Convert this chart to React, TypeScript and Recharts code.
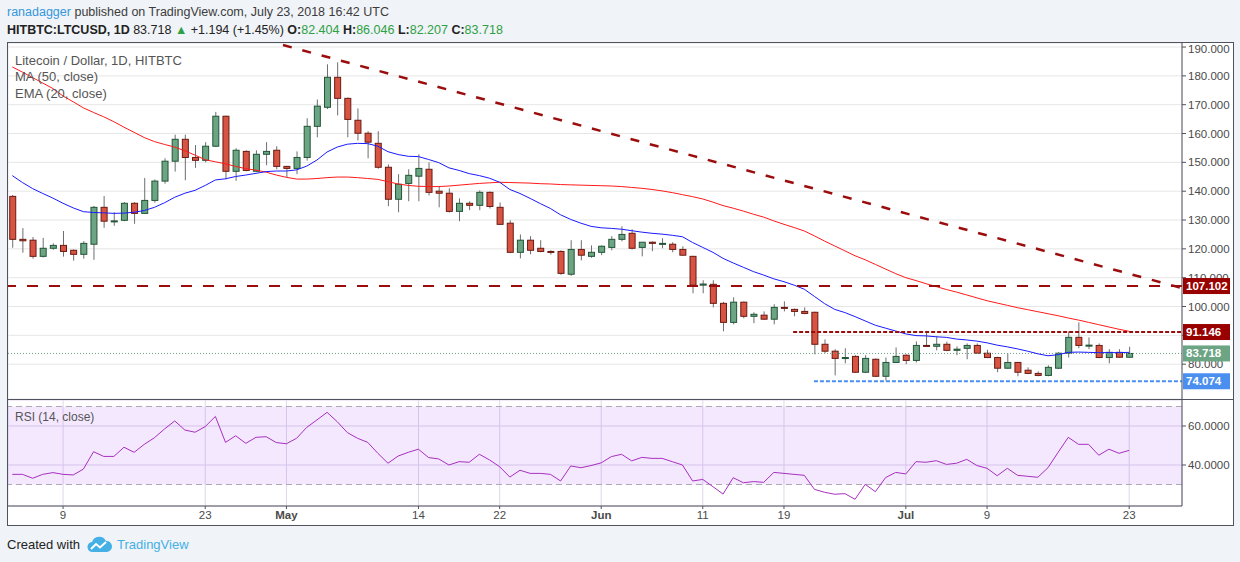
import React from 'react';
import {
  ComposedChart,
  Bar,
  Line,
  XAxis,
  YAxis,
  CartesianGrid,
  ReferenceLine,
  ReferenceArea,
} from 'recharts';

// LTCUSD daily candles, Apr 4 .. Jul 23 2018
const opens = [
  138.2, 123.3, 123.0, 117.4, 120.2, 121.2, 119.5, 118.1, 121.6, 134.4,
  129.5, 129.9, 135.8, 132.3, 136.8, 143.5, 150.4, 158.0, 151.7, 150.7,
  155.6, 166.0, 146.9, 153.8, 146.9, 152.8, 154.2, 148.6, 147.9, 151.7,
  162.5, 169.1, 179.5, 172.2, 164.6, 160.1, 156.6, 148.3, 137.2, 142.7,
  145.2, 147.6, 140.0, 139.3, 133.0, 135.8, 135.1, 139.6, 134.4, 128.9,
  118.8, 123.0, 120.2, 119.1, 119.1, 111.2, 119.8, 117.4, 118.8, 120.5,
  123.3, 125.4, 120.5, 122.3, 121.6, 121.6, 119.8, 117.4, 107.4, 107.7,
  101.1, 94.5, 101.5, 96.6, 97.0, 95.6, 99.7, 99.0, 98.3, 98.0,
  86.9, 84.5, 82.0, 82.7, 77.2, 81.7, 75.8, 80.6, 83.1, 81.3,
  86.5, 86.2, 86.9, 84.8, 85.5, 86.5, 83.8, 82.3, 78.6, 80.6,
  77.9, 76.8, 76.1, 78.6, 83.8, 89.3, 86.4, 86.5, 82.3, 84.1, 82.404,
];
const highs = [
  138.7, 127.2, 124.1, 123.8, 121.9, 126.2, 119.8, 122.7, 134.9, 138.3,
  132.7, 136.2, 136.2, 144.6, 144.1, 151.4, 159.6, 159.6, 156.0, 157.0,
  167.5, 166.2, 154.9, 154.2, 154.2, 157.0, 155.6, 148.8, 153.8, 165.3,
  171.8, 184.0, 184.7, 172.5, 168.7, 160.8, 160.8, 149.3, 145.9, 147.6,
  152.8, 150.0, 141.7, 141.0, 137.5, 136.5, 140.3, 139.9, 136.1, 129.9,
  125.0, 124.4, 123.0, 119.5, 119.5, 123.0, 123.0, 121.2, 121.2, 124.4,
  127.8, 126.8, 122.3, 122.6, 123.7, 122.3, 120.9, 117.6, 109.1, 109.1,
  101.6, 103.2, 101.7, 98.0, 98.3, 100.8, 101.8, 99.3, 99.7, 98.2,
  88.6, 85.2, 85.5, 83.1, 83.1, 82.0, 82.3, 85.8, 83.4, 87.9,
  91.4, 89.7, 87.8, 86.2, 87.2, 87.2, 85.0, 82.6, 83.8, 80.8,
  78.9, 77.5, 79.6, 84.2, 91.4, 94.5, 89.3, 87.2, 85.2, 85.2, 86.046,
];
const lows = [
  120.4, 118.7, 116.6, 117.0, 119.7, 117.3, 115.9, 116.6, 116.2, 127.3,
  128.0, 129.6, 128.7, 132.3, 136.0, 142.6, 146.8, 143.8, 148.1, 150.0,
  155.3, 144.1, 143.6, 146.9, 146.7, 149.0, 147.6, 144.8, 145.9, 150.6,
  158.7, 168.5, 166.3, 158.7, 157.6, 151.4, 147.8, 134.8, 132.7, 136.5,
  136.5, 138.5, 134.4, 132.6, 129.6, 133.4, 133.4, 134.0, 128.3, 118.5,
  116.7, 118.1, 118.8, 118.0, 111.0, 110.6, 116.0, 116.9, 117.8, 119.5,
  122.6, 119.8, 117.4, 119.2, 120.2, 118.8, 117.6, 104.6, 104.6, 99.7,
  91.4, 93.8, 95.9, 94.2, 95.4, 93.8, 98.3, 96.6, 97.3, 83.4,
  83.8, 76.1, 80.3, 77.0, 77.0, 75.6, 74.3, 80.6, 80.0, 80.6,
  86.0, 84.8, 84.5, 83.1, 81.7, 83.6, 82.1, 77.2, 78.4, 75.8,
  76.5, 75.8, 75.8, 78.3, 82.3, 85.5, 85.2, 82.1, 80.3, 82.3, 82.207,
];
const closes = [
  123.3, 122.8, 117.4, 120.2, 121.2, 119.1, 118.1, 121.9, 134.4, 129.6,
  129.7, 135.8, 132.3, 136.8, 143.5, 150.4, 158.0, 151.7, 150.7, 155.6,
  166.0, 146.9, 154.2, 147.2, 152.8, 153.8, 148.6, 147.9, 151.7, 162.5,
  169.5, 179.5, 172.2, 164.9, 160.1, 157.0, 148.3, 137.2, 142.4, 145.5,
  147.9, 139.6, 139.3, 133.0, 135.8, 135.1, 139.6, 134.7, 128.5, 118.8,
  123.0, 119.5, 119.1, 118.8, 111.5, 119.8, 117.8, 118.8, 120.9, 123.3,
  125.0, 120.2, 122.3, 121.9, 121.9, 119.8, 117.8, 107.4, 107.8, 101.1,
  94.5, 101.5, 96.6, 97.3, 95.6, 99.7, 99.4, 98.3, 97.6, 86.9,
  84.5, 82.0, 82.3, 77.2, 82.0, 75.8, 80.6, 82.7, 81.3, 86.5,
  86.2, 86.9, 84.8, 85.2, 86.5, 83.8, 82.3, 78.6, 80.6, 77.2,
  76.8, 76.1, 78.9, 83.8, 89.3, 86.5, 86.6, 82.3, 84.1, 82.404, 83.718,
];
const ma50 = [
  183.1, 181.3, 179.4, 177.5, 175.6, 173.0, 171.0, 168.9, 167.3, 165.8,
  164.1, 162.2, 160.4, 158.6, 157.2, 156.2, 155.3, 154.0, 152.5, 150.9,
  150.2, 149.5, 148.6, 147.8, 147.3, 146.6, 145.6, 144.8, 144.2, 144.2,
  144.4, 144.7, 144.9, 144.9, 144.7, 144.4, 144.1, 143.3, 142.5, 142.0,
  141.7, 141.6, 141.6, 141.8, 142.1, 142.4, 142.7, 142.9, 143.1, 143.0,
  142.9, 142.8, 142.6, 142.5, 142.3, 142.2, 142.1, 142.0, 141.9, 141.8,
  141.6, 141.3, 141.0, 140.6, 140.1, 139.5, 138.8, 138.1, 137.3, 136.2,
  135.0, 134.1, 133.1, 132.0, 131.0, 129.7, 128.5, 127.4, 126.2, 124.5,
  122.7, 121.0, 119.3, 117.6, 116.2, 114.6, 113.0, 111.4, 110.0, 109.0,
  107.9, 106.9, 105.9, 105.0, 104.0, 103.0, 102.0, 101.2, 100.4, 99.6,
  98.9, 98.2, 97.5, 96.8, 96.0, 95.3, 94.5, 93.7, 92.9, 92.1, 91.4,
];
const ema20 = [
  145.4, 143.0, 140.9, 139.2, 137.6, 135.8, 134.2, 132.9, 132.6, 132.5,
  132.3, 132.4, 132.7, 133.3, 134.4, 136.0, 137.9, 139.3, 140.3, 142.0,
  143.9, 144.3, 145.1, 145.6, 146.2, 146.8, 147.0, 147.0, 147.4, 148.7,
  150.8, 153.6, 155.3, 156.3, 156.6, 156.5, 155.6, 153.7, 152.7, 152.1,
  152.0, 151.0, 149.9, 148.1, 147.2, 146.1, 145.4, 144.5, 143.1, 140.6,
  139.2, 137.5, 135.7, 134.0, 131.8, 130.2, 128.9, 127.8, 127.3, 127.1,
  126.8, 126.3, 125.8, 125.4, 125.1, 124.7, 124.2, 122.2, 120.5, 118.8,
  116.7, 115.1, 113.6, 112.1, 110.9, 109.6, 108.6, 107.4, 106.0, 103.5,
  101.0, 99.0, 97.9, 96.5, 95.0, 93.5, 92.5, 91.5, 90.5, 89.9,
  89.8, 89.5, 89.3, 88.7, 88.4, 88.0, 87.4, 86.6, 86.0, 85.3,
  84.5, 83.6, 82.9, 83.3, 84.1, 84.2, 84.1, 84.0, 84.0, 84.0, 84.1,
];
const rsi14 = [
  35.2, 35.2, 33.2, 35.2, 36.1, 35.2, 34.9, 37.9, 46.8, 44.4,
  44.4, 49.1, 46.5, 50.6, 54.0, 58.5, 62.6, 57.9, 56.8, 59.7,
  64.9, 51.6, 55.0, 51.1, 54.2, 54.5, 51.5, 50.9, 53.7, 59.3,
  63.1, 67.0, 62.2, 56.6, 53.7, 51.6, 46.0, 40.9, 44.6, 46.5,
  48.1, 43.8, 43.1, 40.0, 41.7, 41.4, 45.5, 42.6, 39.1, 33.8,
  37.3, 35.7, 35.7, 35.2, 31.8, 39.5, 38.6, 39.7, 41.1, 44.3,
  45.5, 42.1, 43.9, 43.4, 43.4, 41.7, 40.0, 31.8, 32.6, 28.9,
  25.1, 33.5, 30.9, 31.5, 31.1, 36.2, 35.7, 35.2, 34.7, 27.5,
  26.0, 25.0, 25.3, 22.4, 30.1, 26.3, 33.5, 36.2, 35.4, 41.7,
  41.4, 42.2, 40.3, 40.9, 42.9, 39.7, 38.3, 34.5, 38.3, 34.7,
  34.2, 33.7, 38.6, 46.5, 54.2, 50.6, 50.6, 45.0, 48.1, 46.0, 47.5,
];

// time axis: candle number -> label
const dateTicks = [6, 20, 28, 41, 49, 59, 69, 77, 89, 97, 111];
const dateLabels = ['9', '23', 'May', '14', '22', 'Jun', '11', '19', 'Jul', '9', '23'];
const priceTicks = [70, 80, 90, 100, 110, 120, 130, 140, 150, 160, 170, 180, 190];
const rsiTicks = [40, 60];

const data = opens.map((o, k) => ({
  i: k + 1,
  o,
  h: highs[k],
  l: lows[k],
  c: closes[k],
  range: [lows[k], highs[k]],
  ma: ma50[k],
  ema: ema20[k],
  rsi: rsi14[k],
}));

const X_DOMAIN: [number, number] = [0.576, 116.2];
const PRICE_DOMAIN: [number, number] = [67.92, 191.4];
const FRAME = '#50535e';
const GRID = '#e6e6e6';
const AXIS_TEXT = '#4a4a4a';
const FONT = '"Liberation Sans", Arial, sans-serif';

const Candle = (props: any) => {
  const { x, y, width, height, payload } = props;
  const { o, h, l, c } = payload;
  const top = Math.min(y, y + height);
  const span = Math.abs(height);
  const k = h - l > 0 ? span / (h - l) : 0;
  const yOf = (v: number) => top + (h - v) * k;
  const cx = x + width / 2;
  const up = c >= o;
  const bTop = yOf(Math.max(o, c));
  const bBot = yOf(Math.min(o, c));
  return (
    <g>
      <line x1={cx} x2={cx} y1={top} y2={top + span} stroke="#6e6e70" strokeWidth={1} />
      <rect
        x={x + 0.5}
        y={bTop}
        width={width - 1}
        height={Math.max(1, bBot - bTop)}
        fill={up ? '#6ba583' : '#d75442'}
        stroke={up ? '#225437' : '#6b1a12'}
        strokeWidth={1}
      />
    </g>
  );
};

const Badge = (props: any) => {
  const { viewBox, text, bg } = props;
  const x = viewBox.x + viewBox.width;
  const y = viewBox.y;
  return (
    <g>
      <rect x={x + 1} y={y - 8} width={47} height={16} fill={bg} />
      <text x={x + 4} y={y + 4} fill="#fff" fontSize={11.5} fontWeight={700} fontFamily={FONT}>
        {text}
      </text>
    </g>
  );
};

const DateTick = (props: any) => {
  const { x, y, payload } = props;
  const label = dateLabels[dateTicks.indexOf(payload.value)];
  const month = isNaN(Number(label));
  return (
    <text
      x={x}
      y={y}
      dy="0.71em"
      textAnchor="middle"
      fontSize={11.5}
      fontFamily={FONT}
      fill={AXIS_TEXT}
      fontWeight={month ? 700 : 400}
    >
      {label}
    </text>
  );
};

const legendText: React.CSSProperties = {
  position: 'absolute',
  left: 15,
  fontSize: 13,
  color: '#555',
  lineHeight: '16px',
  whiteSpace: 'nowrap',
  pointerEvents: 'none',
};

const hiddenX = (
  <XAxis
    dataKey="i"
    type="number"
    domain={X_DOMAIN}
    allowDataOverflow
    ticks={dateTicks}
    tick={false}
    tickLine={false}
    axisLine={false}
    height={0}
  />
);

export default function App() {
  return (
    <div
      style={{
        position: 'absolute',
        left: 0,
        top: 0,
        width: 1240,
        height: 562,
        background: '#f0f3f7',
        fontFamily: FONT,
        overflow: 'hidden',
      }}
    >
      <div style={{ position: 'absolute', left: 7, top: 4, fontSize: 12.5, lineHeight: '16px', color: '#3c3c3c', whiteSpace: 'nowrap' }}>
        <span style={{ color: '#3597dd' }}>ranadagger</span> published on TradingView.com, July 23, 2018 16:42 UTC
      </div>
      <div style={{ position: 'absolute', left: 7, top: 22, fontSize: 12.5, lineHeight: '16px', color: '#222', whiteSpace: 'nowrap' }}>
        <b>HITBTC:LTCUSD, 1D</b> 83.718 <span style={{ color: '#2ea043' }}>▲</span> +1.194 (+1.45%){' '}
        <b>O:</b><span style={{ color: '#2ea043' }}>82.404</span> <b>H:</b><span style={{ color: '#2ea043' }}>86.046</span>{' '}
        <b>L:</b><span style={{ color: '#2ea043' }}>82.207</span> <b>C:</b><span style={{ color: '#2ea043' }}>83.718</span>
      </div>

      <div
        style={{
          position: 'absolute',
          left: 7,
          top: 42,
          width: 1227,
          height: 484,
          boxSizing: 'border-box',
          border: `1px solid ${FRAME}`,
          background: '#fff',
        }}
      />

      {/* price pane */}
      <div style={{ position: 'absolute', left: 8, top: 43 }}>
        <ComposedChart width={1224} height={356} data={data} margin={{ top: 0, right: 0, bottom: 0, left: 0 }}>
          <CartesianGrid stroke={GRID} />
          {hiddenX}
          <YAxis
            orientation="right"
            width={50}
            type="number"
            domain={PRICE_DOMAIN}
            allowDataOverflow
            ticks={priceTicks}
            tickFormatter={(v: number) => v.toFixed(3)}
            tick={{ fontSize: 11.5, fill: AXIS_TEXT, fontFamily: FONT }}
            tickSize={4}
            tickMargin={2}
            tickLine={{ stroke: FRAME }}
            axisLine={{ stroke: FRAME }}
          />
          <ReferenceLine y={83.718} stroke="#6ba583" strokeDasharray="1 2" strokeWidth={1} />
          <Line dataKey="ma" stroke="#ff1a1a" strokeWidth={1} dot={false} isAnimationActive={false} />
          <Line dataKey="ema" stroke="#1a1aff" strokeWidth={1} dot={false} isAnimationActive={false} />
          <Bar dataKey="range" barSize={7} shape={<Candle />} isAnimationActive={false} />
          <ReferenceLine y={107.102} stroke="#9b0d0d" strokeWidth={2} strokeDasharray="11 11" />
          <ReferenceLine
            segment={[{ x: 77.9, y: 91.146 }, { x: 116.2, y: 91.146 }]}
            stroke="#9b0d0d"
            strokeWidth={2}
            strokeDasharray="4 2"
          />
          <ReferenceLine
            segment={[{ x: 79.95, y: 74.074 }, { x: 116.2, y: 74.074 }]}
            stroke="#4a8ff0"
            strokeWidth={2}
            strokeDasharray="4 2"
          />
          <ReferenceLine
            segment={[{ x: 27.66, y: 190.7 }, { x: 116.2, y: 106.4 }]}
            stroke="#9b0d0d"
            strokeWidth={2.5}
            strokeDasharray="9 11"
          />
        </ComposedChart>
      </div>

      {/* price badges, drawn above the axis labels */}
      <div style={{ position: 'absolute', left: 8, top: 43, pointerEvents: 'none' }}>
        <ComposedChart width={1224} height={356} data={data} margin={{ top: 0, right: 0, bottom: 0, left: 0 }}>
          {hiddenX}
          <YAxis
            orientation="right"
            width={50}
            type="number"
            domain={PRICE_DOMAIN}
            allowDataOverflow
            tick={false}
            tickLine={false}
            axisLine={false}
          />
          <ReferenceLine y={107.102} stroke="none" label={<Badge text="107.102" bg="#990000" />} />
          <ReferenceLine y={91.146} stroke="none" label={<Badge text="91.146" bg="#990000" />} />
          <ReferenceLine y={83.718} stroke="none" label={<Badge text="83.718" bg="#6ba583" />} />
          <ReferenceLine y={74.074} stroke="none" label={<Badge text="74.074" bg="#4a8ff0" />} />
        </ComposedChart>
      </div>

      <div style={{ position: 'absolute', left: 7, top: 399, width: 1227, height: 1, background: FRAME }} />

      {/* RSI pane + time axis */}
      <div style={{ position: 'absolute', left: 8, top: 400 }}>
        <ComposedChart width={1224} height={125} data={data} margin={{ top: 0, right: 0, bottom: 0, left: 0 }}>
          <ReferenceArea y1={30} y2={70} fill="#9b30ff" fillOpacity={0.11} stroke="none" ifOverflow="visible" />
          <CartesianGrid stroke="#e0d6e8" />
          <XAxis
            dataKey="i"
            type="number"
            domain={X_DOMAIN}
            allowDataOverflow
            ticks={dateTicks}
            tick={<DateTick />}
            tickSize={3}
            tickMargin={2}
            tickLine={{ stroke: FRAME }}
            axisLine={{ stroke: FRAME }}
            height={19}
          />
          <YAxis
            orientation="right"
            width={50}
            type="number"
            domain={[18.97, 73.33]}
            allowDataOverflow
            ticks={rsiTicks}
            tickFormatter={(v: number) => v.toFixed(4)}
            tick={{ fontSize: 11.5, fill: AXIS_TEXT, fontFamily: FONT }}
            tickSize={4}
            tickMargin={2}
            tickLine={{ stroke: FRAME }}
            axisLine={{ stroke: FRAME }}
          />
          <ReferenceLine y={70} stroke="#b0a8b4" strokeDasharray="6 4" />
          <ReferenceLine y={30} stroke="#b0a8b4" strokeDasharray="6 4" />
          <Line dataKey="rsi" stroke="#a82fc0" strokeWidth={1} dot={false} isAnimationActive={false} />
        </ComposedChart>
      </div>

      <div style={{ ...legendText, top: 53 }}>Litecoin / Dollar, 1D, HITBTC</div>
      <div style={{ ...legendText, top: 69 }}>MA (50, close)</div>
      <div style={{ ...legendText, top: 86 }}>EMA (20, close)</div>
      <div style={{ ...legendText, top: 409, fontSize: 12 }}>RSI (14, close)</div>

      <div style={{ position: 'absolute', left: 7, top: 537, fontSize: 13, lineHeight: '16px', color: '#222', whiteSpace: 'nowrap' }}>
        Created with
      </div>
      <svg style={{ position: 'absolute', left: 87, top: 536 }} width={25} height={17} viewBox="0 0 25 17">
        <path d="M6 16 A5 5 0 0 1 5 6 A7.5 7.5 0 0 1 19 5 A5.5 5.5 0 0 1 20 16 Z" fill="#45b0e5" />
        <path d="M4 13 L9 8 L13 11.5 L19 6" stroke="#fff" strokeWidth={2} fill="none" />
      </svg>
      <div style={{ position: 'absolute', left: 117, top: 537, fontSize: 13, lineHeight: '16px', color: '#45b0e5', whiteSpace: 'nowrap' }}>
        TradingView
      </div>
    </div>
  );
}
